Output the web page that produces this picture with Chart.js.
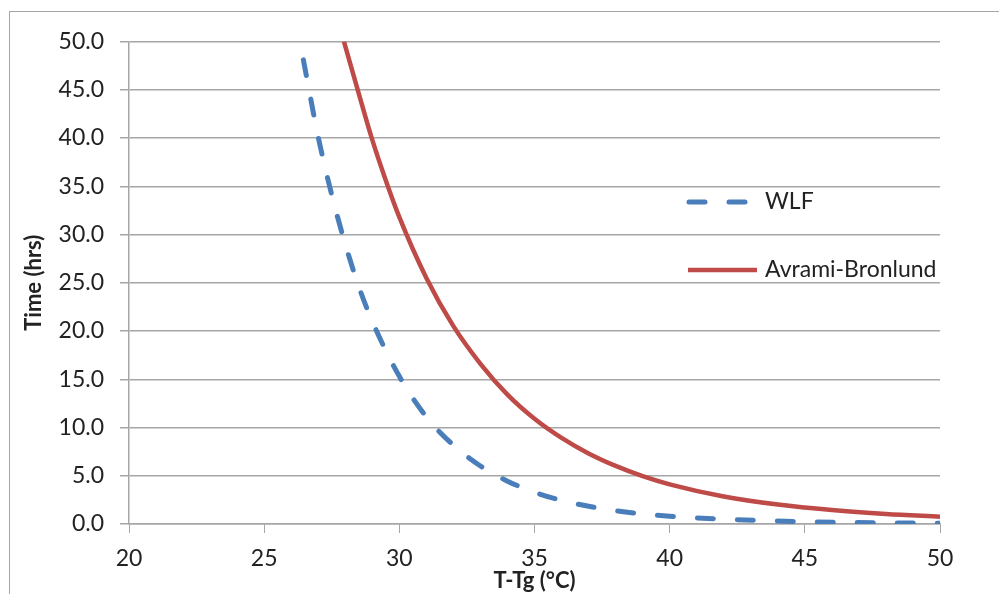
<!DOCTYPE html>
<html>
<head>
<meta charset="utf-8">
<script src="https://cdn.jsdelivr.net/npm/chart.js@4/dist/chart.umd.min.js"></script>
<style>
  html, body { margin:0; padding:0; background:#fff; }
  body { width:999px; height:594px; position:relative; overflow:hidden; }
  .frame { position:absolute; left:9px; top:11px; width:1100px; height:700px; border:1px solid #a6a6a6; }
  #chart { position:absolute; left:0; top:0; }
</style>
</head>
<body>
<div class="frame"></div>
<canvas id="chart" width="999" height="594"></canvas>
<script>
// --- data ---
const wlfX = [26.45, 27, 27.5, 28, 28.5, 29, 30, 31, 32, 33, 34, 35, 36, 38, 40, 42, 45, 47.5, 50];
const wlfY = [48.1, 40.1, 34.1, 29.0, 24.6, 21.0, 15.3, 11.1, 8.17, 6.01, 4.44, 3.29, 2.45, 1.37, 0.8, 0.5, 0.24, 0.13, 0.07];
const abX = [27.95, 28.5, 29, 29.5, 30, 31, 32, 33, 34, 35, 36, 37, 38, 39, 40, 42, 44, 46, 48, 50];
const abY = [50, 44.6, 39.8, 35.6, 31.8, 25.5, 20.5, 16.6, 13.4, 10.9, 8.92, 7.31, 6.02, 4.96, 4.11, 2.85, 2.01, 1.44, 1.04, 0.76];
const seriesNames = ['WLF', 'Avrami-Bronlund'];
const xTitle = 'T-Tg (°C)';
const yTitle = 'Time (hrs)';

const FONT = 'Lato, "Open Sans", sans-serif';
const GRID = '#a6a6a6';
const toPts = (xs, ys) => xs.map((x, i) => ({x, y: ys[i]}));

// legend drawn inside the plot, like the original
const insideLegend = {
  id: 'insideLegend',
  afterDatasetsDraw(chart){
    const c = chart.ctx;
    const rows = [202, 270];
    chart.data.datasets.forEach((ds, i) => {
      const y = rows[i];
      c.save();
      c.strokeStyle = ds.borderColor;
      c.lineWidth = ds.borderWidth;
      c.lineCap = ds.borderCapStyle || 'butt';
      c.setLineDash(ds.borderDash || []);
      c.beginPath();
      if (ds.borderDash) { c.moveTo(689, y); c.lineTo(747, y); }
      else { c.moveTo(688, y); c.lineTo(757, y); }
      c.stroke();
      c.setLineDash([]);
      c.fillStyle = '#222';
      c.font = '23px ' + FONT;
      c.textBaseline = 'middle';
      c.textAlign = 'left';
      c.fillText(ds.label, 765, y);
      c.restore();
    });
  }
};

new Chart(document.getElementById('chart'), {
  type: 'scatter',
  data: {
    datasets: [
      {
        label: seriesNames[0],
        data: toPts(wlfX, wlfY),
        showLine: true,
        borderColor: '#4a7ebb',
        borderWidth: 5,
        borderDash: [16, 24],
        borderCapStyle: 'round',
        pointRadius: 0,
        cubicInterpolationMode: 'monotone'
      },
      {
        label: seriesNames[1],
        data: toPts(abX, abY),
        showLine: true,
        borderColor: '#be4b48',
        borderWidth: 4.5,
        borderCapStyle: 'butt',
        pointRadius: 0,
        cubicInterpolationMode: 'monotone'
      }
    ]
  },
  options: {
    responsive: false,
    animation: false,
    layout: { padding: { left: 0, top: 41.5, right: 59, bottom: 0 } },
    plugins: { legend: { display: false }, tooltip: { enabled: false } },
    scales: {
      x: {
        type: 'linear',
        min: 20, max: 50,
        afterFit(s){ s.height = 70; },
        ticks: { stepSize: 5, padding: 12, color: '#222', font: { family: FONT, size: 23 } },
        grid: { drawOnChartArea: false, drawTicks: true, tickLength: 9, color: GRID },
        border: { display: true, color: GRID, width: 1.5 },
        title: { display: true, text: xTitle, color: '#222', padding: { top: 1, bottom: 0 },
                 font: { family: FONT, size: 22, weight: 'bold' } }
      },
      y: {
        min: 0, max: 50,
        afterFit(s){ s.width = 129; },
        ticks: { stepSize: 5, padding: 16, color: '#222', font: { family: FONT, size: 23 },
                 callback: v => v.toFixed(1) },
        grid: { color: GRID, lineWidth: 1.5, tickLength: 9 },
        border: { display: true, color: GRID, width: 1.5 },
        title: { display: true, text: yTitle, color: '#222', padding: { top: 21, bottom: 0 },
                 font: { family: FONT, size: 22, weight: 'bold' } }
      }
    }
  },
  plugins: [insideLegend]
});
</script>
</body>
</html>
